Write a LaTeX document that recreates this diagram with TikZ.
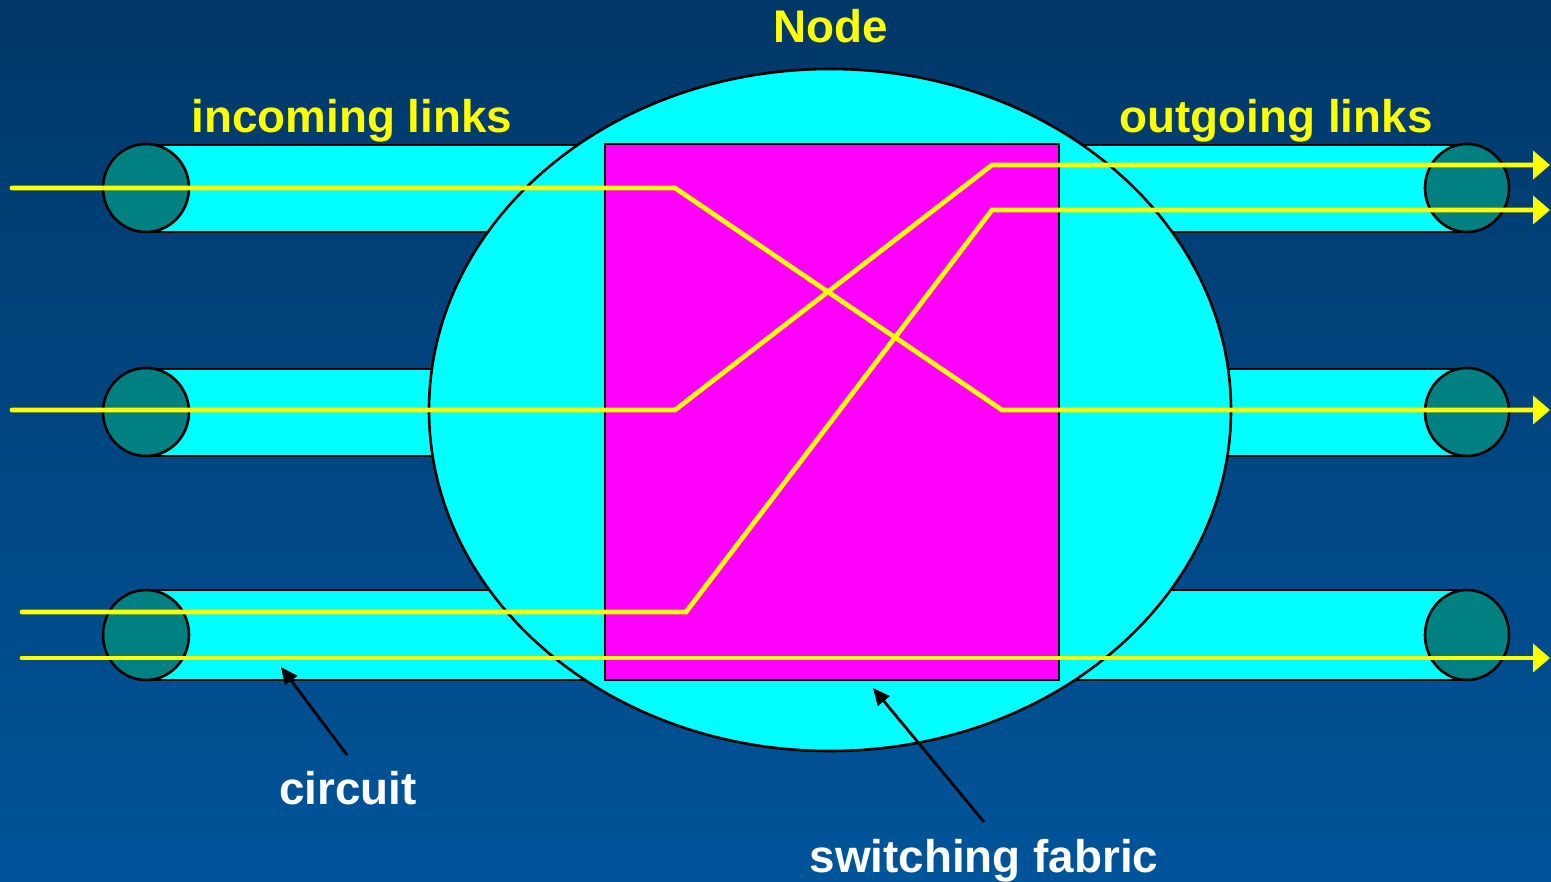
\documentclass[tikz,border=0pt]{standalone}
\usepackage{fontspec}
\setmainfont{Liberation Sans}
\usetikzlibrary{shapes.geometric,arrows.meta}
\definecolor{bgtop}{RGB}{0,56,104}
\definecolor{bgbot}{RGB}{0,84,154}
\definecolor{capteal}{RGB}{0,128,128}
\definecolor{pipecyan}{RGB}{0,255,255}
\definecolor{fabricmag}{RGB}{255,0,255}
\definecolor{routeyellow}{RGB}{255,255,0}
\begin{document}
\begin{tikzpicture}[x=1pt,y=-1pt,
  outline/.style={draw=black,line width=2.6pt},
  pipebody/.style={outline,fill=pipecyan},
  pipecap/.style={ellipse,outline,fill=capteal,minimum width=86pt,minimum height=88pt,inner sep=0pt},
  nodebody/.style={ellipse,outline,fill=pipecyan,minimum width=802pt,minimum height=682pt,inner sep=0pt},
  fabricbox/.style={rectangle,outline,fill=fabricmag,minimum width=454pt,minimum height=536pt,inner sep=0pt},
  route/.style={draw=routeyellow,line width=4.8pt,line cap=round,line join=miter},
  routeout/.style={route,-{Triangle[length=17pt,width=28pt]}},
  pointer/.style={draw=black,line width=2.8pt,-{Triangle[length=17pt,width=15pt]}},
  caption/.style={font=\fontsize{45.8}{55}\selectfont\bfseries,anchor=base,inner sep=0pt},
]
% background
\shade[top color=bgtop,bottom color=bgbot] (0,0) rectangle (1551,882);
\useasboundingbox (0,0) rectangle (1551,882);

% incoming link pipes
\draw[pipebody] (146,145) rectangle (620,232);
\draw[pipebody] (146,369) rectangle (620,456);
\draw[pipebody] (146,590) rectangle (620,680);
\node[pipecap] (inA) at (146,188) {};
\node[pipecap] (inB) at (146,412) {};
\node[pipecap, minimum height=90pt] (inC) at (146,635) {};

% outgoing link pipes
\draw[pipebody] (1040,145) rectangle (1467,232);
\draw[pipebody] (1040,369) rectangle (1467,456);
\draw[pipebody] (1040,590) rectangle (1467,680);
\node[pipecap, minimum width=84pt] (outA) at (1467,188) {};
\node[pipecap, minimum width=84pt] (outB) at (1467,412) {};
\node[pipecap, minimum width=84pt, minimum height=90pt] (outC) at (1467,635) {};

% the node and its switching fabric
\node[nodebody] (sw) at (830,410) {};
\node[fabricbox] (fabric) at (832,412) {};

% circuits through the fabric
\coordinate (s1) at (12,188);  \coordinate (e1) at (1550,410);
\coordinate (s2) at (12,410);  \coordinate (e2) at (1550,165);
\coordinate (s3) at (22,612);  \coordinate (e3) at (1550,210);
\coordinate (s4) at (22,658);  \coordinate (e4) at (1550,658);
\draw[routeout] (s1) -- (675,188) -- (1002,410) -- (e1);
\draw[routeout] (s2) -- (675,410) -- (992,165) -- (e2);
\draw[routeout] (s3) -- (686,612) -- (992,210) -- (e3);
\draw[routeout] (s4) -- (e4);

% captions
\node[caption, text=routeyellow] (title) at (831,43) {Node};
\node[caption, text=routeyellow] (inlab) at (352,133) {incoming links};
\node[caption, text=routeyellow] (outlab) at (1276,133) {outgoing links};
\node[caption, text=white] (circlab) at (348,804) {circuit};
\node[caption, text=white] (fablab) at (984,872) {switching fabric};

% pointers
\coordinate (circtail) at (347,755);
\coordinate (circhead) at (281,667);
\coordinate (fabtail) at (984,822);
\coordinate (fabhead) at (873,688);
\draw[pointer] (circtail) -- (circhead);
\draw[pointer] (fabtail) -- (fabhead);
\end{tikzpicture}
\end{document}
